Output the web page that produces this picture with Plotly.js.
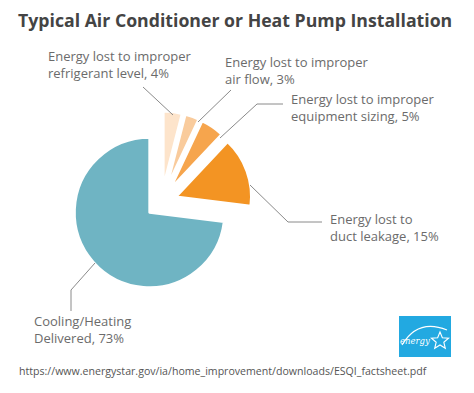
<!DOCTYPE html>
<html>
<head>
<meta charset="utf-8">
<script src="https://cdn.plot.ly/plotly-3.0.1.min.js"></script>
<style>html,body{margin:0;padding:0;background:#fff}#chart{width:474px;height:393px}</style>
</head>
<body>
<div id="chart"></div>
<script>
// ---- data ----
const categories = [
  "Energy lost to improper refrigerant level",
  "Energy lost to improper air flow",
  "Energy lost to improper equipment sizing",
  "Energy lost to duct leakage",
  "Cooling/Heating Delivered"
];
const values = [4, 3, 5, 15, 73];
const labelTexts = [
  "Energy lost to improper<br>refrigerant level, 4%",
  "Energy lost to improper<br>air flow, 3%",
  "Energy lost to improper<br>equipment sizing, 5%",
  "Energy lost to<br>duct leakage, 15%",
  "Cooling/Heating<br>Delivered, 73%"
];
const sliceColors = ["#fde4cb", "#f9cb9c", "#f6a54d", "#f39423", "#6fb4c3"];
const titleText = "Typical Air Conditioner or Heat Pump Installation";
const sourceText = "https://www.energystar.gov/ia/home_improvement/downloads/ESQI_factsheet.pdf";

// ---- layout helpers (pixel -> paper) ----
const W = 474, H = 393;
const px = x => x / W;
const py = y => 1 - y / H;

const labelPos = [[46, 64.5], [223, 70.5], [289, 107], [328, 227], [32, 329]];
const leaders = [
  [[143, 87], [173, 115]],
  [[231, 90], [198, 122]],
  [[283, 104], [257, 104], [220, 138]],
  [[250, 185], [288, 222], [322, 222]],
  [[95, 263], [71, 290], [71, 311]]
];

const gray = "#6b6b6b";
const font = "Open Sans, Lato, sans-serif";

const annotations = labelTexts.map((t, i) => ({
  xref: "paper", yref: "paper", x: px(labelPos[i][0]), y: py(labelPos[i][1]),
  xanchor: "left", yanchor: "middle", align: "left", showarrow: false,
  text: t, font: {family: font, size: 13, color: gray}
}));
annotations.push({
  xref: "paper", yref: "paper", x: px(17), y: py(371), xanchor: "left", yanchor: "middle",
  showarrow: false, text: sourceText, font: {family: font, size: 10.6, color: "#555"}
});
// logo text
annotations.push({
  xref: "paper", yref: "paper", x: px(415), y: py(341), xanchor: "center", yanchor: "middle",
  showarrow: false, text: "<i>energy</i>", font: {family: "DejaVu Serif, serif", size: 8.5, color: "#fff"}
});

const shapes = [];
leaders.forEach(pts => {
  for (let k = 0; k < pts.length - 1; k++) {
    shapes.push({type: "line", xref: "paper", yref: "paper",
      x0: px(pts[k][0]), y0: py(pts[k][1]), x1: px(pts[k+1][0]), y1: py(pts[k+1][1]),
      line: {color: "#8a8a8a", width: 1}});
  }
});
// energy star logo
shapes.push({type: "rect", xref: "paper", yref: "paper", x0: px(399), y0: py(357), x1: px(451), y1: py(316),
  fillcolor: "#22a9e1", line: {width: 0}});
function P(x, y) { return px(x).toFixed(5) + "," + py(y).toFixed(5); }
shapes.push({type: "path", xref: "paper", yref: "paper",
  path: "M" + P(402, 345) + " Q" + P(418, 318) + " " + P(447, 330),
  line: {color: "#fff", width: 1.2}});
// star outline
(function () {
  const cx = 440, cy = 341, ro = 9, ri = 4;
  let d = "";
  for (let k = 0; k < 10; k++) {
    const r = k % 2 ? ri : ro;
    const a = -Math.PI / 2 + k * Math.PI / 5;
    d += (k ? " L" : "M") + P(cx + r * Math.cos(a), cy + r * Math.sin(a));
  }
  shapes.push({type: "path", xref: "paper", yref: "paper", path: d + " Z", line: {color: "#fff", width: 1.1}});
})();

const trace = {
  type: "pie",
  labels: categories,
  values: values,
  sort: false,
  direction: "clockwise",
  rotation: 0,
  pull: [0.21, 0.21, 0.21, 0.21, 0.21],
  marker: {colors: sliceColors, line: {color: "#fff", width: 2.5}},
  textinfo: "none",
  hoverinfo: "label+percent",
  domain: {x: [px(70.6), px(252.2)], y: [py(292.8), py(111.2)]}
};

const layout = {
  width: W, height: H,
  margin: {l: 0, r: 0, t: 0, b: 0},
  paper_bgcolor: "#fff",
  showlegend: false,
  title: {text: "<b>" + titleText + "</b>", x: px(18), xanchor: "left", y: py(21), yanchor: "middle",
          font: {family: font, size: 17.7, color: "#444"}},
  annotations: annotations,
  shapes: shapes
};

Plotly.newPlot("chart", [trace], layout, {displayModeBar: false, staticPlot: true});
</script>
</body>
</html>
